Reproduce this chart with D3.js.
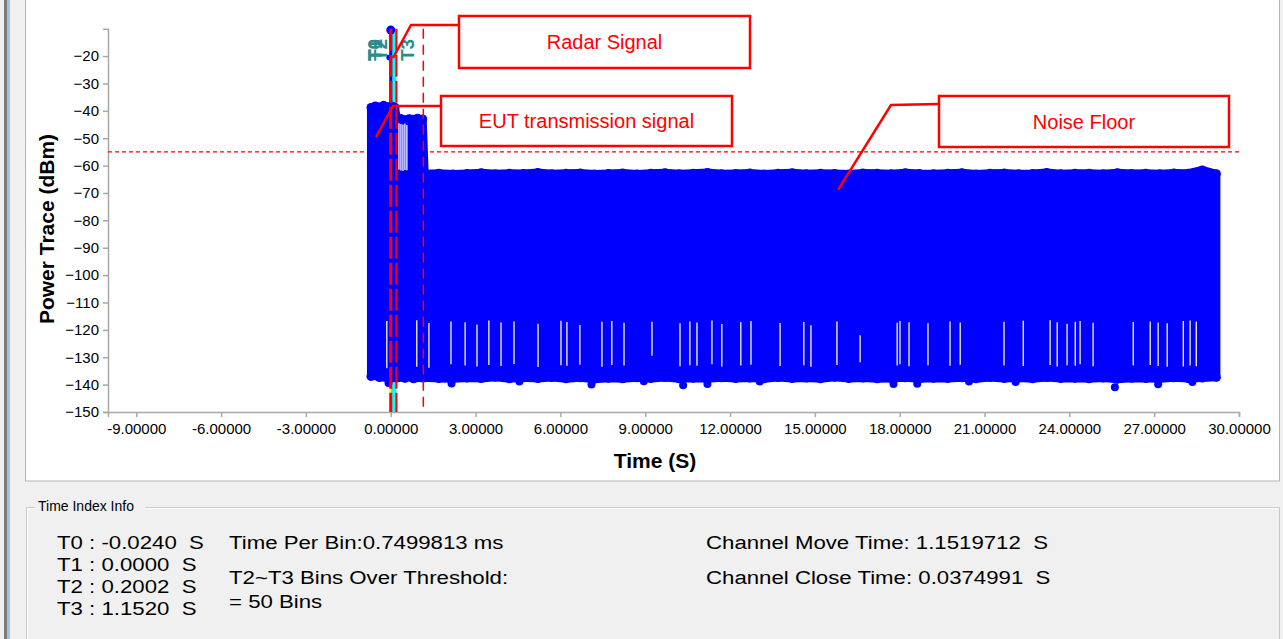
<!DOCTYPE html>
<html>
<head>
<meta charset="utf-8">
<script src="https://cdn.jsdelivr.net/npm/d3@7/dist/d3.min.js"></script>
<style>
body { margin: 0; background: #f0f0f0; }
svg { display: block; font-family: "Liberation Sans", Arial, sans-serif; }
text.pre { white-space: pre; }
</style>
</head>
<body>
<svg width="1283" height="639"></svg>
<script>
// ---- values ----
var xTicks = [-9, -6, -3, 0, 3, 6, 9, 12, 15, 18, 21, 24, 27, 30];
var yTicks = [-20, -30, -40, -50, -60, -70, -80, -90, -100, -110, -120, -130, -140, -150];

var markerNames = ["T0", "T1", "T2", "T3"];
var markerTimes = [-0.0240, 0.0000, 0.2002, 1.1520];
var threshold = -55;

// envelope of the power trace (dot centres), EUT burst then noise floor
var envTime = [-0.70, -0.55, -0.40, -0.25, -0.10, 0.05, 0.15, 0.22, 0.35, 0.50, 0.65, 0.80, 0.95, 1.08, 1.13,
  1.20, 1.70, 2.20, 2.70, 3.20, 3.70, 4.20, 4.70, 5.20, 5.70, 6.20, 6.70, 7.20, 7.70, 8.20, 8.70, 9.20, 9.70,
  10.20, 10.70, 11.20, 11.70, 12.20, 12.70, 13.20, 13.70, 14.20, 14.70, 15.20, 15.70, 16.20, 16.70, 17.20, 17.70,
  18.20, 18.70, 19.20, 19.70, 20.20, 20.70, 21.20, 21.70, 22.20, 22.70, 23.20, 23.70, 24.20, 24.70, 25.20, 25.70,
  26.20, 26.70, 27.20, 27.70, 28.20, 28.70, 29.20];
var envTop = [-38.8, -38.2, -38.6, -38.0, -38.5, -38.3, -38.7, -43.2, -42.8, -43.3, -42.9, -43.1, -42.7, -43.2, -43.0,
  -63.0, -62.8, -63.1, -62.9, -62.6, -63.0, -62.8, -62.9, -62.5, -63.0, -62.8, -62.7, -63.1, -62.9, -62.7, -63.1, -62.8, -62.6,
  -63.0, -62.8, -62.5, -63.0, -62.9, -62.7, -63.1, -62.8, -62.6, -63.0, -62.8, -62.9, -63.1, -62.7, -62.8, -63.0,
  -62.6, -62.9, -63.0, -62.8, -62.6, -63.1, -62.8, -62.7, -63.0, -62.9, -62.5, -63.0, -62.8, -62.8, -63.0, -62.6,
  -62.9, -62.8, -63.0, -62.7, -62.8, -61.6, -63.0];
var envBottom = [-137.0, -136.8, -137.4, -137.2, -137.8, -137.5, -137.3, -137.6, -137.3, -137.7, -137.2, -137.9, -137.5, -137.4, -137.6,
  -137.5, -137.8, -137.9, -137.6, -137.8, -137.3, -137.9, -137.5, -137.8, -137.4, -137.9, -137.5, -138.0, -137.7, -137.9, -137.5, -137.8, -137.4,
  -137.9, -137.7, -137.9, -137.5, -137.8, -137.6, -137.9, -137.4, -137.8, -137.6, -137.9, -137.3, -137.8, -137.6, -137.9, -137.8,
  -137.5, -137.9, -137.7, -137.8, -137.5, -137.9, -137.4, -137.8, -137.6, -137.9, -137.4, -137.8, -137.7, -137.9, -137.6, -138.0,
  -137.7, -137.8, -137.9, -137.5, -137.8, -137.6, -137.3];

// isolated low dots below the noise floor
var lowTime = [-0.08, 2.15, 4.55, 7.10, 8.95, 10.34, 11.20, 13.05, 17.78, 18.62, 20.45, 22.10, 25.61, 27.14, 28.35];
var lowPower = [-139.4, -139.6, -138.9, -140.0, -138.8, -140.2, -139.8, -138.9, -139.8, -139.7, -138.9, -139.0, -141.0, -139.9, -139.0];

// radar pulse spike
var radarTime = [0.00, -0.05, 0.00];
var radarPower = [-10.5, -20.5, -38.0];

// white gaps inside the trace
var gapTime = [0.29, 0.36, 0.43, 0.50, 0.57,
  -0.14, 0.92, 1.35, 2.13, 2.63, 3.05, 3.47, 3.90, 4.36, 5.21, 6.02, 6.23, 6.69, 7.47, 7.82, 8.25, 9.24, 10.23, 10.58,
  10.83, 11.36, 11.71, 12.38, 12.74, 13.77, 14.61, 14.86, 15.78, 16.60, 17.91, 18.01, 18.33, 19.00, 19.78, 20.14,
  21.69, 22.37, 23.32, 23.57, 23.92, 24.21, 24.38, 24.84, 26.26, 26.86, 27.14, 27.46, 28.03, 28.27, 28.49];
var gapTop = [-44.5, -44.8, -45.0, -44.6, -45.2,
  -116.8, -116.5, -117.5, -116.9, -117.2, -118.0, -116.6, -117.3, -116.9, -117.8, -116.7, -117.1, -118.2, -117.0, -116.8, -117.4, -117.0, -117.6, -116.9,
  -117.3, -116.6, -117.9, -117.2, -116.8, -117.5, -117.1, -118.3, -116.9, -122.0, -117.4, -116.8, -117.2, -117.6, -116.9, -117.3,
  -117.0, -116.7, -116.5, -117.2, -117.8, -117.0, -116.8, -117.4, -117.1, -116.9, -117.3, -117.6, -116.8, -116.6, -117.0];
var gapBottom = [-61.5, -61.8, -62.0, -61.6, -61.7,
  -134.0, -133.5, -133.8, -132.6, -133.0, -133.4, -132.8, -133.2, -132.5, -133.6, -132.9, -133.1, -132.7, -133.5, -132.8, -133.0, -129.5, -133.3, -132.9,
  -133.1, -132.6, -133.4, -133.0, -132.7, -133.2, -132.9, -133.5, -132.8, -131.8, -133.0, -132.6, -133.3, -132.9, -133.1, -132.7,
  -133.0, -133.2, -132.8, -133.4, -132.9, -133.1, -132.6, -133.3, -133.0, -132.8, -133.2, -133.5, -133.4, -133.0, -133.3];

var calloutTexts = ["Radar Signal", "EUT transmission signal", "Noise Floor"];
var calloutTipTime = [0.08, -0.52, 15.82];
var calloutTipPower = [-20.7, -49.6, -68.9];

var infoLeft = ["T0 : -0.0240  S", "T1 : 0.0000  S", "T2 : 0.2002  S", "T3 : 1.1520  S"];
var infoMiddle = ["Time Per Bin:0.7499813 ms", "T2~T3 Bins Over Threshold:", "= 50 Bins"];
var infoRight = ["Channel Move Time: 1.1519712  S", "Channel Close Time: 0.0374991  S"];

// ---- drawing ----
var svg = d3.select("svg");

// window frame and panels
svg.append("rect").attr("x", 0).attr("y", 0).attr("width", 1283).attr("height", 639).attr("fill", "#f0f0f0");
svg.append("rect").attr("x", 4).attr("y", 0).attr("width", 3).attr("height", 639).attr("fill", "#7b7b7b");
svg.append("rect").attr("x", 7).attr("y", 0).attr("width", 3).attr("height", 639).attr("fill", "#9cc4e4");
svg.append("rect").attr("x", 25.5).attr("y", -2).attr("width", 1254).attr("height", 483)
    .attr("fill", "#ffffff").attr("stroke", "#b4b4b4");

var x = d3.scaleLinear().domain([-10, 30]).range([108, 1239]);
var y = d3.scaleLinear().domain([-150, -10]).range([412, 28.7]);

// cyan region between T1 and T2
svg.append("rect")
    .attr("x", x(markerTimes[1]))
    .attr("y", y(-10))
    .attr("width", x(markerTimes[2]) - x(markerTimes[1]))
    .attr("height", y(-150) - y(-10))
    .attr("fill", "#00ffff");

// T0 marker sits under the trace
svg.append("line")
    .attr("x1", x(markerTimes[0])).attr("x2", x(markerTimes[0]))
    .attr("y1", y(-10)).attr("y2", y(-150))
    .attr("stroke", "#ffff00").attr("stroke-width", 2);

// axes
var xAxis = svg.append("g")
    .attr("transform", "translate(0," + y(-150) + ")")
    .call(d3.axisBottom(x).tickValues(xTicks).tickSizeOuter(0).tickSize(5).tickPadding(6)
        .tickFormat(function(d) { return d.toFixed(5); }));
var yAxis = svg.append("g")
    .attr("transform", "translate(" + x(-10) + ",0)")
    .call(d3.axisLeft(y).tickValues(yTicks).tickSizeOuter(0).tickSize(5).tickPadding(4));
[xAxis, yAxis].forEach(function(a) {
    a.select(".domain").attr("stroke", "#a8a8a8").attr("stroke-width", 1.5);
    a.selectAll(".tick line").attr("stroke", "#a8a8a8").attr("stroke-width", 1.5);
    a.selectAll(".tick text").attr("fill", "#000").style("font-size", "15px")
        .style("font-family", "'Liberation Sans', Arial, sans-serif");
});

svg.append("text").attr("x", 655).attr("y", 468).attr("text-anchor", "middle")
    .style("font-size", "21px").style("font-weight", "bold").text("Time (S)");
svg.append("text").attr("transform", "translate(54,229) rotate(-90)").attr("text-anchor", "middle")
    .style("font-size", "21px").style("font-weight", "bold").text("Power Trace (dBm)");

// threshold
svg.append("line")
    .attr("x1", x(-10)).attr("x2", x(30))
    .attr("y1", y(threshold)).attr("y2", y(threshold))
    .attr("stroke", "#ff0000").attr("stroke-width", 1.2).attr("stroke-dasharray", "4,3");

// power trace envelope
var env = envTime.map(function(t, i) { return { t: t, top: envTop[i], bottom: envBottom[i] }; });
var area = d3.area()
    .x(function(d) { return x(d.t); })
    .y0(function(d) { return y(d.bottom); })
    .y1(function(d) { return y(d.top); });
svg.append("path").datum(env).attr("d", area)
    .attr("fill", "#0000ff").attr("stroke", "#0000ff")
    .attr("stroke-width", 8).attr("stroke-linejoin", "round");

var dots = svg.append("g").attr("fill", "#0000ff");
dots.selectAll("circle.top").data(env).enter().append("circle")
    .attr("cx", function(d) { return x(d.t); }).attr("cy", function(d) { return y(d.top); }).attr("r", 4.5);
dots.selectAll("circle.bot").data(env).enter().append("circle")
    .attr("cx", function(d) { return x(d.t); }).attr("cy", function(d) { return y(d.bottom); }).attr("r", 4.5);
dots.selectAll("circle.low").data(lowTime).enter().append("circle")
    .attr("cx", function(d) { return x(d); }).attr("cy", function(d, i) { return y(lowPower[i]); }).attr("r", 4);

// radar spike
var radar = radarTime.map(function(t, i) { return { t: t, p: radarPower[i] }; });
svg.append("line")
    .attr("x1", x(radar[0].t)).attr("x2", x(radar[2].t))
    .attr("y1", y(radar[0].p)).attr("y2", y(radar[2].p))
    .attr("stroke", "#0000ff").attr("stroke-width", 3);
svg.selectAll("circle.radar").data(radar).enter().append("circle")
    .attr("cx", function(d) { return x(d.t); }).attr("cy", function(d) { return y(d.p); })
    .attr("r", function(d, i) { return i == 0 ? 4.5 : 3; })
    .attr("fill", "#0000ff");

// gaps
svg.selectAll("line.gap").data(gapTime).enter().append("line")
    .attr("x1", function(d) { return x(d); }).attr("x2", function(d) { return x(d); })
    .attr("y1", function(d, i) { return y(gapTop[i]); })
    .attr("y2", function(d, i) { return y(gapBottom[i]); })
    .attr("stroke", "#ffffff").attr("stroke-width", 1.4).attr("opacity", 0.9);

// T1..T3 markers on top
var markerColor = ["#ffff00", "#ff0000", "#ff0000", "#ff0000"];
var markerWidth = [2, 3, 2, 1.5];
var markerDash = ["none", "22,4", "22,4", "10,6"];
svg.selectAll("line.marker").data(markerTimes.slice(1)).enter().append("line")
    .attr("x1", function(d) { return x(d); }).attr("x2", function(d) { return x(d); })
    .attr("y1", y(-10)).attr("y2", y(-150))
    .attr("stroke", function(d, i) { return markerColor[i + 1]; })
    .attr("stroke-width", function(d, i) { return markerWidth[i + 1]; })
    .attr("stroke-dasharray", function(d, i) { return markerDash[i + 1]; });

svg.selectAll("text.marker").data(markerTimes).enter().append("text")
    .attr("transform", function(d) { return "translate(" + (x(d) - 9) + ",61) rotate(-90)"; })
    .attr("fill", "#268c8c")
    .style("font-size", "19px").style("font-weight", "bold")
    .text(function(d, i) { return markerNames[i]; });

// callouts
var boxes = [[459, 16, 291, 52], [441, 96, 291, 50], [939, 96, 290, 51]];
var elbows = [[411, 25, 459, 25], [393, 106, 441, 106], [891, 105, 939, 104]];
calloutTexts.forEach(function(txt, i) {
    var b = boxes[i], e = elbows[i];
    svg.append("polyline")
        .attr("points", [x(calloutTipTime[i]), y(calloutTipPower[i]), e[0], e[1], e[2], e[3]].join(","))
        .attr("fill", "none").attr("stroke", "#ff0000").attr("stroke-width", 2.5);
    svg.append("rect").attr("x", b[0]).attr("y", b[1]).attr("width", b[2]).attr("height", b[3])
        .attr("fill", "#ffffff").attr("stroke", "#ff0000").attr("stroke-width", 2.5);
    svg.append("text").attr("x", b[0] + b[2] / 2).attr("y", b[1] + b[3] / 2 + 7)
        .attr("text-anchor", "middle").attr("fill", "#ff0000")
        .style("font-size", "20px").text(txt);
});

// info group box
svg.append("path").attr("d", "M26.5,639V507.5H1279.5V639").attr("fill", "none").attr("stroke", "#c9c9c9");
svg.append("path").attr("d", "M27.5,639V508.5H1278.5").attr("fill", "none").attr("stroke", "#ffffff");
svg.append("rect").attr("x", 35).attr("y", 499).attr("width", 110).attr("height", 16).attr("fill", "#f0f0f0");
svg.append("text").attr("x", 38).attr("y", 511).style("font-size", "14px").attr("fill", "#000")
    .text("Time Index Info");

// info texts: smaller font stretched sideways so the tight rows do not collide
function infoText(list, px, ys) {
    svg.selectAll(null).data(list).enter().append("text").attr("class", "pre")
        .attr("transform", function(d, i) { return "translate(" + px + "," + ys[i] + ") scale(1.17,1)"; })
        .style("font-size", "19px").text(function(d) { return d; });
}
infoText(infoLeft, 57, [549, 571, 593, 615]);
infoText(infoMiddle, 229, [549, 584, 608]);
infoText(infoRight, 706, [549, 584]);
</script>
</body>
</html>
